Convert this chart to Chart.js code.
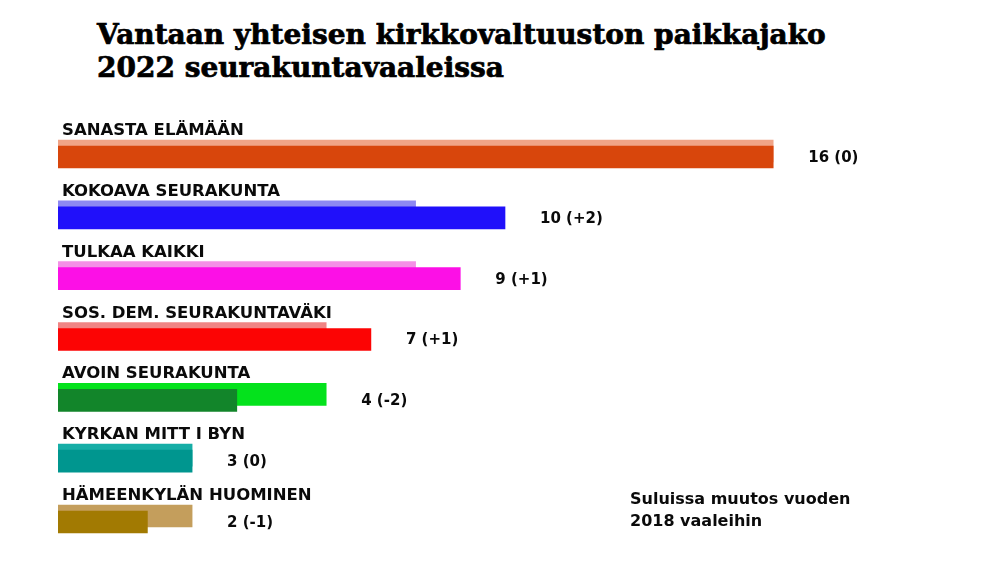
<!DOCTYPE html>
<html lang="fi">
<head>
    <meta charset="UTF-8">
    <title>Vantaan yhteisen kirkkovaltuuston paikkajako</title>
    <script src="https://cdn.jsdelivr.net/npm/chart.js@4/dist/chart.umd.min.js"></script>
    <style>
        body {
            margin: 0;
            background: #fff;
            width: 1000px;
            height: 563px;
            overflow: hidden;
            position: relative;
        }
        .title {
            position: absolute;
            left: 97px;
            top: 18px;
            font-family: 'DejaVu Serif', serif;
            font-weight: bold;
            font-size: 27px;
            line-height: 33px;
            color: #000;
            -webkit-text-stroke: 0.7px #000;
            white-space: nowrap;
            transform-origin: left top;
        }
        .chart-box {
            position: absolute;
            left: 0;
            top: 0;
            width: 1000px;
            height: 563px;
        }
    </style>
</head>
<body>
    <div class="title" id="title">Vantaan yhteisen kirkkovaltuuston paikkajako<br>2022 seurakuntavaaleissa</div>
    <div class="chart-box"><canvas id="seats"></canvas></div>

    <script>
        // ryhmät ja paikat
        const groups = ['SANASTA ELÄMÄÄN', 'KOKOAVA SEURAKUNTA', 'TULKAA KAIKKI', 'SOS. DEM. SEURAKUNTAVÄKI',
            'AVOIN SEURAKUNTA', 'KYRKAN MITT I BYN', 'HÄMEENKYLÄN HUOMINEN'];
        const seats2022 = [16, 10, 9, 7, 4, 3, 2];
        const seats2018 = [16, 8, 8, 6, 6, 3, 3];
        const changeLabels = ['16 (0)', '10 (+2)', '9 (+1)', '7 (+1)', '4 (-2)', '3 (0)', '2 (-1)'];
        const colors2022 = ['#d8460c', '#2010fa', '#fc10e6', '#fc0404', '#12852a', '#00968f', '#a27a02'];
        const colors2018 = ['#f0a487', '#8d88f2', '#f490e6', '#f08484', '#04e21c', '#16ada6', '#c49e5c'];
        const noteLines = ['Suluissa muutos vuoden', '2018 vaaleihin'];

        const shift = 0.099; // 2022-palkki hieman alempana
        const labelFont = '"DejaVu Sans", sans-serif';

        // venytetään otsikko oikeaan leveyteen
        const t = document.getElementById('title');
        t.style.transform = 'scaleX(' + (729 / t.offsetWidth) + ')';

        const labelPlugin = {
            id: 'labels',
            afterDatasetsDraw(chart) {
                const ctx = chart.ctx;
                const x = chart.scales.x;
                const y = chart.scales.y;
                const y2 = chart.scales.y2;
                ctx.save();
                ctx.fillStyle = '#0a0a0a';
                groups.forEach((g, i) => {
                    ctx.font = 'bold 16.5px ' + labelFont;
                    ctx.textAlign = 'left';
                    ctx.textBaseline = 'alphabetic';
                    ctx.fillText(g, 62, y.getPixelForValue(i) - 16);
                    const end = x.getPixelForValue(Math.max(seats2022[i], seats2018[i]));
                    ctx.font = 'bold 15px ' + labelFont;
                    ctx.textBaseline = 'middle';
                    ctx.fillText(changeLabels[i], end + 35, y2.getPixelForValue(i) + 1);
                });
                ctx.font = 'bold 16px ' + labelFont;
                ctx.textBaseline = 'alphabetic';
                noteLines.forEach((l, k) => ctx.fillText(l, 630, 504 + k * 22));
                ctx.restore();
            }
        };

        new Chart(document.getElementById('seats'), {
            type: 'bar',
            data: {
                datasets: [
                    {
                        label: '2022',
                        data: seats2022.map((v, i) => ({ x: v, y: i })),
                        backgroundColor: colors2022,
                        yAxisID: 'y2',
                        barThickness: 22,
                        grouped: false,
                        order: 1
                    },
                    {
                        label: '2018',
                        data: seats2018.map((v, i) => ({ x: v, y: i })),
                        backgroundColor: colors2018,
                        yAxisID: 'y',
                        barThickness: 22,
                        grouped: false,
                        order: 2
                    }
                ]
            },
            options: {
                indexAxis: 'y',
                responsive: true,
                maintainAspectRatio: false,
                animation: false,
                layout: { padding: { left: 58, right: 48, top: 120.6, bottom: 16.6 } },
                scales: {
                    x: { type: 'linear', min: 0, max: 20, display: false, offset: false },
                    y: { type: 'linear', min: -0.5, max: 6.5, reverse: true, display: false, offset: false },
                    y2: { type: 'linear', min: -0.5 - shift, max: 6.5 - shift, reverse: true, display: false, offset: false }
                },
                plugins: {
                    legend: { display: false },
                    tooltip: { enabled: false }
                }
            },
            plugins: [labelPlugin]
        });
    </script>
</body>
</html>
